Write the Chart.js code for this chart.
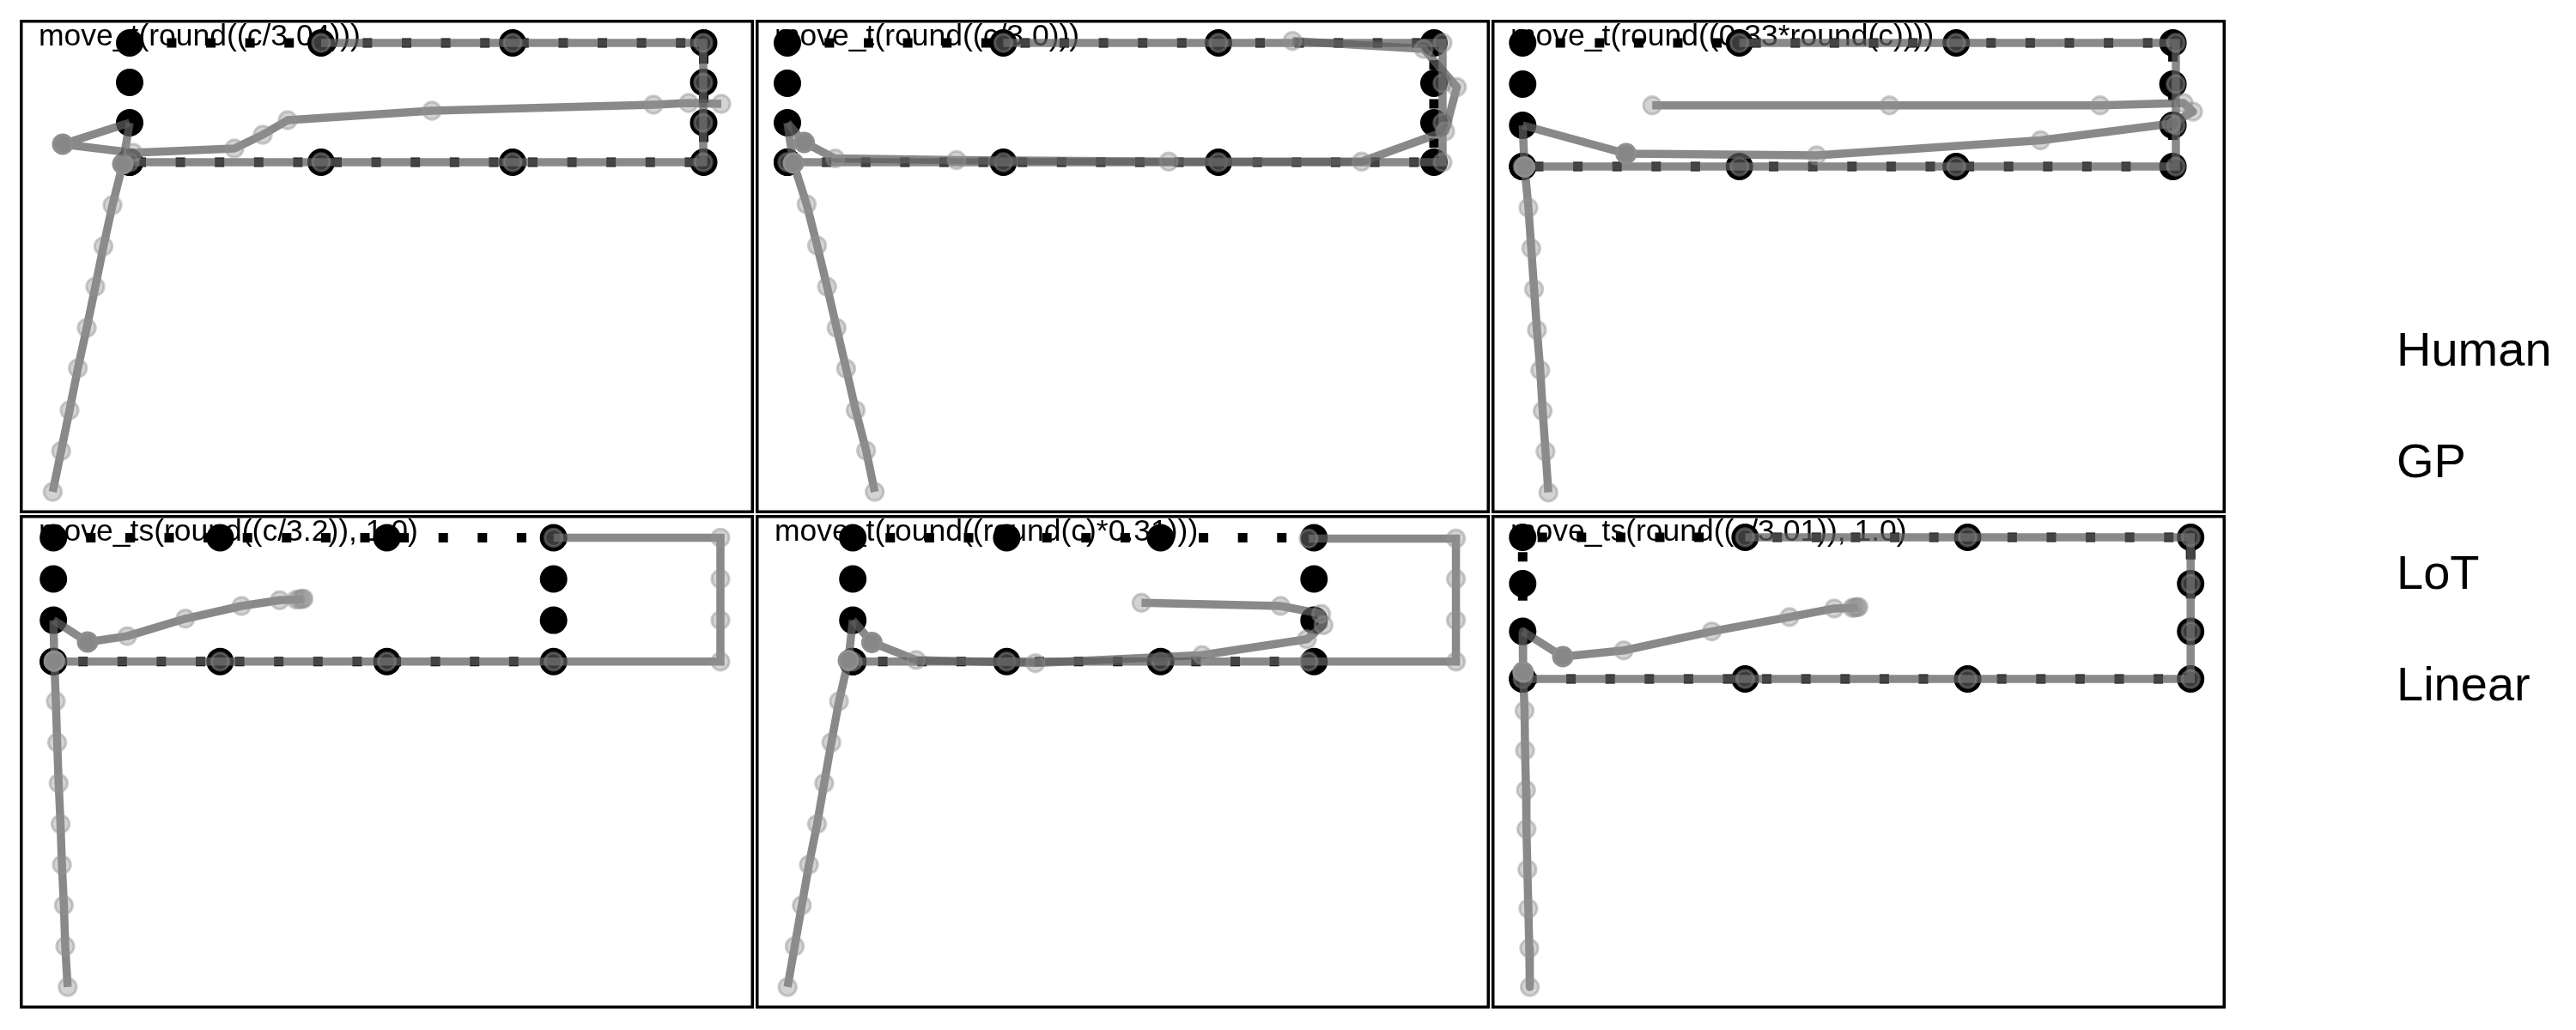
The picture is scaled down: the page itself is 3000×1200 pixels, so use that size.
<!DOCTYPE html>
<html><head><meta charset="utf-8">
<script src="https://cdn.jsdelivr.net/npm/chart.js@4.4.1/dist/chart.umd.min.js"></script>
<style>
html,body{margin:0;padding:0;background:#fff;width:3000px;height:1200px;overflow:hidden;position:relative;}
canvas{position:absolute;}
</style></head><body>
<canvas id="p1" width="855" height="575" style="left:23px;top:23px"></canvas>
<canvas id="p2" width="855" height="575" style="left:880px;top:23px"></canvas>
<canvas id="p3" width="855" height="575" style="left:1737px;top:23px"></canvas>
<canvas id="p4" width="855" height="575" style="left:23px;top:600px"></canvas>
<canvas id="p5" width="855" height="575" style="left:880px;top:600px"></canvas>
<canvas id="p6" width="855" height="575" style="left:1737px;top:600px"></canvas>
<canvas id="legend" width="700" height="1200" style="left:2689px;top:6px"></canvas>
<script>
// ---- data (x right, y down, per-panel units) ----
const seriesNames = ['Human', 'GP', 'LoT', 'Linear'];
const panelTitles = [
  'move_t(round((c/3.04)))',
  'move_t(round((c/3.0)))',
  'move_t(round((0.33*round(c))))',
  'move_ts(round((c/3.2)), 1.0)',
  'move_t(round((round(c)*0.31)))',
  'move_ts(round((c/3.01)), 1.0)'
];
const xRange = [0, 855];
const yRange = [0, 575];

const p1Human = [[128,166],[128,120],[128,73],[128,27],[351,27],[574,27],[796.5,27],[796.5,73],[796.5,120],[796.5,166],[574,166],[351,166],[128,166]];
const p1LoT = [[351,27],[574,27],[796,27],[796,73],[796,120],[796,166],[574,166],[351,166],[128,166]];
const p1GP = [[128,120],[50,145],[132,155],[250,150],[283,134],[312,117],[480,106],[738,99],[779,97],[817,98]];
const p1Linear = [[128,120],[120,168],[108,216],[97.5,264],[88,311],[78,359],[67.7,406],[58,455],[48.2,502.5],[38.4,550]];

const p2Human = [[37,166],[37,120],[37,74],[37,27],[288.5,27],[539,27],[790,27],[790,74],[790,120],[790,166],[539,166],[288.5,166],[37,166]];
const p2LoT = [[288.5,27],[539,27],[800,27],[800,74],[800,120],[800,166],[539,166],[288.5,166],[37,166]];
const p2GP = [[37,120],[56.6,143],[92.6,161.6],[234,163.5],[481,165.3],[705.7,165.3],[803,130],[816.7,78.4],[778,34],[625.3,24.7]];
const p2Linear = [[37,120],[44,167],[59.4,215],[71.6,263],[83.2,311],[94.3,359],[105.4,406.5],[116.5,455],[128.7,502],[138.7,550]];

const p3Human = [[36.3,171],[36.3,123],[36.3,75],[36.3,27],[288.7,27],[541.2,27],[793.6,27],[793.6,75],[793.6,123],[793.6,171],[541.2,171],[288.7,171],[36.3,171]];
const p3LoT = [[288.7,27],[541.2,27],[797,27],[797,75],[797,123],[797,171],[541.2,171],[288.7,171],[36.3,171]];
const p3GP = [[36.3,123],[156.7,156],[378.6,158],[639.4,140.5],[792,121],[817,107],[806,97],[708.8,99.8],[463.5,99.8],[187.2,99.8]];
const p3Linear = [[36.3,123],[38.5,171.5],[43,219],[46.3,266.3],[49.6,314],[52.9,361.4],[56.8,408.3],[59.6,455.7],[62.9,503],[66.2,550.7]];

const p4Human = [[39.2,170.7],[39.2,122.6],[39.2,74.5],[39.2,26.4],[233.4,26.4],[427.6,26.4],[621.7,26.4],[621.7,74.5],[621.7,122.6],[621.7,170.7],[427.6,170.7],[233.4,170.7],[39.2,170.7]];
const p4LoT = [[621.7,26.4],[816,26.4],[816,74.5],[816,122.6],[816,170.7],[621.7,170.7],[427.6,170.7],[233.4,170.7],[39.2,170.7]];
const p4GP = [[39.2,122.6],[79,148],[125.2,141.1],[192.9,120.8],[258.3,106],[302.7,99.3],[322,98.6],[326,98.2],[329,97.8],[330.5,97.5]];
const p4Linear = [[39.2,122.6],[40.3,170.2],[42,217],[43.6,265],[45.3,312.4],[47.5,360],[49.1,407.4],[51.4,454.8],[53,502.5],[55.8,549.9]];

const p5Human = [[113.2,170.7],[113.2,122.6],[113.2,74.5],[113.2,26.4],[292.4,26.4],[471.6,26.4],[650.3,26.4],[650.3,74.5],[650.3,122.6],[650.3,170.7],[471.6,170.7],[292.4,170.7],[113.2,170.7]];
const p5LoT = [[644,27.5],[815.6,27.5],[815.6,74.5],[815.6,122.6],[815.6,170.7],[644,170.7],[471.6,170.7],[292.4,170.7],[113.2,170.7]];
const p5GP = [[113.2,122.6],[135.4,148.5],[187,168.9],[325.7,172.6],[519.9,163.3],[642,144.8],[661.4,128.2],[658.6,115.2],[611.4,106],[449.4,102.3]];
const p5Linear = [[113.2,122.6],[108,169.5],[97.1,217],[88.2,265],[79.9,312.4],[71.6,360.1],[62.1,407.4],[53.8,454.8],[45.5,502.5],[37.2,549.9]];

const p6Human = [[36.3,191],[36.3,135.6],[36.3,80],[36.3,26],[295.4,26],[554.5,26],[814.2,26],[814.2,80],[814.2,135.6],[814.2,191],[554.5,191],[295.4,191],[36.3,191]];
const p6LoT = [[295.4,26],[554.5,26],[814.2,26],[814.2,80],[814.2,135.6],[814.2,191],[554.5,191],[295.4,191],[36.3,191]];
const p6GP = [[36.3,135.6],[83,165],[153.9,157.8],[256.6,135.6],[347,118.9],[399.1,108.9],[420.2,108.2],[423,107.8],[425.8,107.5],[427.4,107.1]];
const p6Linear = [[36.3,135.6],[36.8,183],[38.5,228],[39.1,274.3],[40.2,320.5],[40.7,366],[41.8,413],[42.9,458.5],[44,504.7],[44.6,549.9]];

// ---- styling ----
const grayLine = 'rgba(93,93,93,0.73)';
const markerFill = 'rgba(145,145,145,0.4)';
const markerEdge = 'rgba(145,145,145,0.45)';
const firstFill = '#878787';
const firstEdge = '#8e8e8e';
const toXY = a => a.map(([x, y]) => ({x, y}));

const panelDecor = {
  id: 'panelDecor',
  beforeDatasetsDraw(chart, args, opts) {
    const ctx = chart.ctx;
    ctx.save();
    ctx.font = '35.5px "Liberation Sans", Arial, sans-serif';
    ctx.fillStyle = '#000';
    ctx.textAlign = 'left';
    ctx.textBaseline = 'alphabetic';
    ctx.fillText(opts.title, chart.chartArea.left + 22, chart.chartArea.top + 30);
    ctx.restore();
  },
  afterDraw(chart) {
    const ctx = chart.ctx;
    ctx.save();
    ctx.lineWidth = 3.5;
    ctx.strokeStyle = '#000';
    ctx.strokeRect(1.75, 1.75, chart.width - 3.5, chart.height - 3.5);
    ctx.restore();
  }
};

function humanSet(pts) {
  return {
    label: seriesNames[0], data: toXY(pts), showLine: true,
    borderColor: '#000', borderWidth: 11, borderDash: [11, 34.6], borderCapStyle: 'butt',
    borderJoinStyle: 'miter', pointRadius: 16, pointBackgroundColor: '#000',
    pointBorderWidth: 0, pointHoverRadius: 16, clip: false, order: 4
  };
}
// fromHuman: the path starts at a human point (no marker there) and its first
// prediction is drawn as a solid grey dot.
function modelSet(label, pts, join, fromHuman, order) {
  const isFirst = c => fromHuman && c.dataIndex === 1;
  const radius = c => (fromHuman && c.dataIndex === 0) ? 0 : (isFirst(c) ? 11 : 10.2);
  return {
    label, data: toXY(pts), showLine: true,
    borderColor: grayLine, borderWidth: 9.5, borderCapStyle: 'butt', borderJoinStyle: join,
    pointRadius: radius, pointHoverRadius: radius,
    pointBackgroundColor: c => isFirst(c) ? firstFill : markerFill,
    pointBorderColor: c => isFirst(c) ? firstEdge : markerEdge,
    pointBorderWidth: 3,
    clip: false, order
  };
}

const panels = [
  ['p1', p1Human, p1GP, p1LoT, p1Linear],
  ['p2', p2Human, p2GP, p2LoT, p2Linear],
  ['p3', p3Human, p3GP, p3LoT, p3Linear],
  ['p4', p4Human, p4GP, p4LoT, p4Linear],
  ['p5', p5Human, p5GP, p5LoT, p5Linear],
  ['p6', p6Human, p6GP, p6LoT, p6Linear]
];

panels.forEach(([id, human, gp, lot, linear], i) => {
  new Chart(document.getElementById(id), {
    type: 'scatter',
    data: {
      datasets: [
        modelSet(seriesNames[1], gp, 'round', true, 1),
        modelSet(seriesNames[3], linear, 'round', true, 2),
        modelSet(seriesNames[2], lot, 'miter', false, 3),
        humanSet(human)
      ]
    },
    options: {
      responsive: false, devicePixelRatio: 1, animation: false,
      layout: {padding: 0, autoPadding: false},
      scales: {
        x: {type: 'linear', min: xRange[0], max: xRange[1], display: false},
        y: {type: 'linear', min: yRange[0], max: yRange[1], reverse: true, display: false}
      },
      plugins: {
        legend: {display: false}, tooltip: {enabled: false},
        panelDecor: {title: panelTitles[i]}
      },
      events: []
    },
    plugins: [panelDecor]
  });
});

new Chart(document.getElementById('legend'), {
  type: 'scatter',
  data: {datasets: seriesNames.map(n => ({label: n, data: []}))},
  options: {
    responsive: false, devicePixelRatio: 1, animation: false,
    layout: {padding: 0, autoPadding: false},
    scales: {x: {display: false}, y: {display: false}},
    events: [],
    plugins: {
      tooltip: {enabled: false},
      legend: {
        display: true, position: 'left', align: 'center',
        labels: {
          boxWidth: 0, boxHeight: 0, padding: 74, color: '#000',
          font: {family: '"Liberation Sans", Arial, sans-serif', size: 56},
          generateLabels: chart => chart.data.datasets.map((d, i) => ({
            text: d.label, fillStyle: 'rgba(0,0,0,0)', strokeStyle: 'rgba(0,0,0,0)',
            lineWidth: 0, hidden: false, datasetIndex: i, fontColor: '#000'
          }))
        }
      }
    }
  }
});
</script>
</body></html>
